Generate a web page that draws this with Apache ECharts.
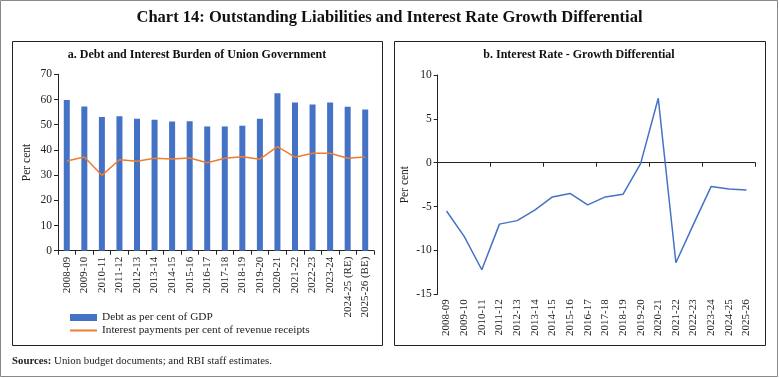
<!DOCTYPE html>
<html><head><meta charset="utf-8">
<script src="https://cdn.jsdelivr.net/npm/echarts@6/dist/echarts.min.js"></script>
<style>html,body{margin:0;padding:0;background:#fff}#c{width:779px;height:378px}</style>
</head><body><div id="c"></div>
<script>
const categoriesA = ['2008-09','2009-10','2010-11','2011-12','2012-13','2013-14','2014-15','2015-16','2016-17','2017-18','2018-19','2019-20','2020-21','2021-22','2022-23','2023-24','2024-25 (RE)','2025-26 (BE)'];
const debtGDP = [59.8,57.2,53.1,53.4,52.4,52.0,51.3,51.4,49.3,49.3,49.6,52.4,62.5,58.8,58.0,58.8,57.1,56.0];
const interestRR = [35.6,37.2,29.9,36.1,35.5,36.7,36.4,36.8,34.9,36.7,37.3,36.3,41.3,37.1,38.7,38.7,36.7,37.2];
const categoriesB = ['2008-09','2009-10','2010-11','2011-12','2012-13','2013-14','2014-15','2015-16','2016-17','2017-18','2018-19','2019-20','2020-21','2021-22','2022-23','2023-24','2024-25','2025-26'];
const irgDiff = [-5.5,-8.4,-12.2,-7.0,-6.6,-5.4,-3.9,-3.5,-4.8,-3.9,-3.6,-0.1,7.35,-11.4,-7.0,-2.7,-3.0,-3.1];
const ticksA = [0,10,20,30,40,50,60,70];
const ticksB = [-15,-10,-5,0,5,10];

const F = 'Liberation Serif, serif';
const axisCol = '#222';
const lineIcon = 'path://M0,0L0,0.01M0,2.6L27,2.6L27,4.4L0,4.4ZM27,7L27,7.01';
const chart = echarts.init(document.getElementById('c'));
chart.setOption({
  animation:false,
  textStyle:{fontFamily:F},
  graphic:[
    {type:'rect',shape:{x:0.5,y:0.5,width:777,height:376},style:{fill:'none',stroke:'#888',lineWidth:1},silent:true},
    {type:'rect',shape:{x:12.5,y:41.5,width:370,height:304},style:{fill:'none',stroke:'#222',lineWidth:1},silent:true},
    {type:'rect',shape:{x:394.5,y:41.5,width:371,height:304},style:{fill:'none',stroke:'#222',lineWidth:1},silent:true},
    {type:'text',left:'center',top:9,style:{text:'Chart 14: Outstanding Liabilities and Interest Rate Growth Differential',font:'bold 16.5px '+F,fill:'#111'}},
    {type:'text',x:12,y:356,style:{text:'{b|Sources:} Union budget documents; and RBI staff estimates.',font:'10.8px '+F,fill:'#222',rich:{b:{fontWeight:'bold',fontSize:10.8,fontFamily:F}}}},
    {type:'text',x:197,y:49,style:{text:'a. Debt and Interest Burden of Union Government',font:'bold 12px '+F,fill:'#111',align:'center'}},
    {type:'text',x:579,y:49,style:{text:'b. Interest Rate - Growth Differential',font:'bold 12px '+F,fill:'#111',align:'center'}}
  ],
  legend:{orient:'vertical',left:70,top:312,padding:0,itemWidth:27,itemHeight:7,itemGap:2,
    textStyle:{fontFamily:F,fontSize:11.3,color:'#222'},
    data:[{name:'Debt as per cent of GDP',icon:'rect'},{name:'Interest payments per cent of revenue receipts',icon:lineIcon,itemStyle:{color:'#ED7D31'}}]},
  grid:[
    {left:58,top:74.3,width:316,height:176.4},
    {left:437.7,top:75,width:317.6,height:219.3}
  ],
  xAxis:[
    {gridIndex:0,type:'category',data:categoriesA,
      axisLine:{lineStyle:{color:axisCol}},axisTick:{show:true,length:4,lineStyle:{color:axisCol}},
      axisLabel:{rotate:90,fontSize:11,color:'#222',margin:6,interval:0,fontFamily:F}},
    {gridIndex:1,type:'category',data:categoriesB,
      axisLine:{onZero:true,lineStyle:{color:axisCol}},axisTick:{show:true,length:4,lineStyle:{color:axisCol}},
      axisLabel:{show:false}},
    {gridIndex:1,type:'category',data:categoriesB,position:'bottom',
      axisLine:{show:false,onZero:false},axisTick:{show:false},
      axisLabel:{rotate:90,fontSize:11,color:'#222',margin:5,interval:0,fontFamily:F}}
  ],
  yAxis:[
    {gridIndex:0,type:'value',min:0,max:70,interval:10,name:'Per cent',nameLocation:'middle',nameGap:25,
      nameTextStyle:{fontSize:11.5,color:'#222',fontFamily:F},
      axisLine:{show:true,lineStyle:{color:axisCol}},axisTick:{show:true,length:4,lineStyle:{color:axisCol}},
      splitLine:{show:false},axisLabel:{fontSize:11.5,color:'#222',fontFamily:F,margin:6}},
    {gridIndex:1,type:'value',min:-15,max:10,interval:5,name:'Per cent',nameLocation:'middle',nameGap:27,
      nameTextStyle:{fontSize:11.5,color:'#222',fontFamily:F},
      axisLine:{show:true,lineStyle:{color:axisCol}},axisTick:{show:true,length:4,lineStyle:{color:axisCol}},
      splitLine:{show:false},axisLabel:{fontSize:11.5,color:'#222',fontFamily:F,margin:6}}
  ],
  series:[
    {name:'Debt as per cent of GDP',type:'bar',xAxisIndex:0,yAxisIndex:0,data:debtGDP,barWidth:6,itemStyle:{color:'#4472C4'}},
    {name:'Interest payments per cent of revenue receipts',type:'line',xAxisIndex:0,yAxisIndex:0,data:interestRR,showSymbol:false,symbol:'none',lineStyle:{color:'#ED7D31',width:1.5},itemStyle:{color:'#ED7D31'}},
    {name:'IRGD',type:'line',xAxisIndex:1,yAxisIndex:1,data:irgDiff,showSymbol:false,symbol:'none',lineStyle:{color:'#4472C4',width:1.5}}
  ]
});
</script></body></html>
